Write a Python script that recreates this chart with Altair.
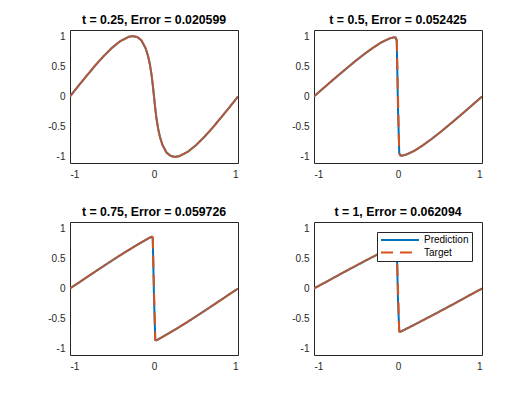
import altair as alt
import pandas as pd

BLUE = "#0072BD"
ORANGE = "#D95319"
AX = "#262626"
FONT = "Liberation Sans"

titles = [
    "t = 0.25, Error = 0.020599",
    "t = 0.5, Error = 0.052425",
    "t = 0.75, Error = 0.059726",
    "t = 1, Error = 0.062094",
]
series_names = ["Prediction", "Target"]

x_ticks = [-1, 0, 1]
y_ticks = [-1, -0.5, 0, 0.5, 1]
x_limits = [-1, 1]
y_limits = [-1.1, 1.1]

# ---- t = 0.25 ----
x_p1 = [-1, -0.9, -0.8, -0.7, -0.6, -0.5, -0.4, -0.3, -0.25, -0.2, -0.15, -0.1,
        -0.07, -0.05, -0.03, -0.02, -0.01, 0, 0.01, 0.02, 0.03, 0.05, 0.07, 0.1,
        0.15, 0.2, 0.25, 0.3, 0.4, 0.5, 0.6, 0.7, 0.8, 0.9, 1]
target_p1 = [0, 0.176, 0.347, 0.513, 0.668, 0.806, 0.918, 0.988, 1.0, 0.985, 0.93, 0.8,
             0.67, 0.54, 0.37, 0.26, 0.135, 0, -0.135, -0.26, -0.37, -0.54, -0.67, -0.8,
             -0.93, -0.985, -1.0, -0.988, -0.918, -0.806, -0.668, -0.513, -0.347, -0.176, 0]
prediction_p1 = [0.002, 0.175, 0.346, 0.512, 0.667, 0.805, 0.917, 0.987, 0.998, 0.983, 0.928, 0.797,
                 0.665, 0.535, 0.365, 0.255, 0.13, 0, -0.13, -0.255, -0.365, -0.535, -0.665, -0.797,
                 -0.928, -0.983, -0.998, -0.987, -0.917, -0.805, -0.667, -0.512, -0.346, -0.175, -0.002]
jump_p1 = []

# ---- t = 0.5 ----
x_p2 = [-1, -0.9, -0.8, -0.7, -0.6, -0.5, -0.4, -0.3, -0.2, -0.1, -0.05, -0.03, -0.015,
        0, 0.015, 0.03, 0.05, 0.1, 0.2, 0.3, 0.4, 0.5, 0.6, 0.7, 0.8, 0.9, 1]
target_p2 = [0, 0.123, 0.245, 0.363, 0.48, 0.595, 0.703, 0.804, 0.894, 0.962, 0.98, 0.978, 0.95,
             0, -0.95, -0.978, -0.98, -0.962, -0.894, -0.804, -0.703, -0.595, -0.48, -0.363, -0.245, -0.123, 0]
prediction_p2 = [0.002, 0.122, 0.244, 0.362, 0.479, 0.594, 0.702, 0.803, 0.893, 0.96, 0.978, 0.975, 0.92,
                 -0.2, -0.94, -0.976, -0.978, -0.96, -0.893, -0.803, -0.702, -0.594, -0.479, -0.362, -0.244, -0.122, -0.002]
jump_p2 = [-0.015, 0.015]

# ---- t = 0.75 ----
x_p3 = [-1, -0.9, -0.8, -0.7, -0.6, -0.5, -0.4, -0.3, -0.2, -0.1, -0.05, -0.03, -0.015,
        0, 0.015, 0.03, 0.05, 0.1, 0.2, 0.3, 0.4, 0.5, 0.6, 0.7, 0.8, 0.9, 1]
target_p3 = [0, 0.093, 0.187, 0.28, 0.372, 0.463, 0.553, 0.639, 0.723, 0.804, 0.843, 0.857, 0.86,
             0, -0.86, -0.857, -0.843, -0.804, -0.723, -0.639, -0.553, -0.463, -0.372, -0.28, -0.187, -0.093, 0]
prediction_p3 = [0.002, 0.092, 0.186, 0.279, 0.371, 0.462, 0.552, 0.638, 0.722, 0.802, 0.84, 0.853, 0.83,
                 -0.15, -0.85, -0.855, -0.841, -0.802, -0.722, -0.638, -0.552, -0.462, -0.371, -0.279, -0.186, -0.092, -0.002]
jump_p3 = [-0.015, 0.015]

# ---- t = 1 ----
x_p4 = [-1, -0.9, -0.8, -0.7, -0.6, -0.5, -0.4, -0.3, -0.2, -0.1, -0.05, -0.03, -0.015,
        0, 0.015, 0.03, 0.05, 0.1, 0.2, 0.3, 0.4, 0.5, 0.6, 0.7, 0.8, 0.9, 1]
target_p4 = [0, 0.076, 0.152, 0.228, 0.303, 0.377, 0.451, 0.524, 0.596, 0.667, 0.702, 0.715, 0.72,
             0, -0.72, -0.715, -0.702, -0.667, -0.596, -0.524, -0.451, -0.377, -0.303, -0.228, -0.152, -0.076, 0]
prediction_p4 = [0.002, 0.075, 0.151, 0.227, 0.302, 0.376, 0.45, 0.523, 0.595, 0.665, 0.7, 0.712, 0.69,
                 -0.2, -0.71, -0.713, -0.7, -0.665, -0.595, -0.523, -0.45, -0.376, -0.302, -0.227, -0.151, -0.075, -0.002]
jump_p4 = [-0.015, 0.015]

panels_data = [
    (x_p1, target_p1, prediction_p1, jump_p1),
    (x_p2, target_p2, prediction_p2, jump_p2),
    (x_p3, target_p3, prediction_p3, jump_p3),
    (x_p4, target_p4, prediction_p4, jump_p4),
]

PANEL_W = 168
PANEL_H = 133


def make_panel(xs, target, prediction, jump, title, with_legend):
    pred_df = pd.DataFrame({"x": xs, "u": prediction, "series": "Prediction"})
    if jump:
        lo, hi = jump
        piece = ["left" if v <= lo else ("right" if v >= hi else "shock") for v in xs]
    else:
        piece = ["left"] * len(xs)
    tgt_df = pd.DataFrame({"x": xs, "u": target, "series": "Target", "piece": piece})
    smooth_df = tgt_df[tgt_df["piece"] != "shock"]

    xenc = alt.X("x:Q",
                 scale=alt.Scale(domain=x_limits, nice=False, zero=False),
                 axis=alt.Axis(values=x_ticks, title=None, labelExpr="datum.value + ''",
                               labelPadding=6))
    yenc = alt.Y("u:Q",
                 scale=alt.Scale(domain=y_limits, nice=False, zero=False),
                 axis=alt.Axis(values=y_ticks, title=None, labelExpr="datum.value + ''",
                               labelPadding=5))

    if with_legend:
        leg = alt.Legend(title=None, orient="none", legendX=307, legendY=202,
                         symbolType="stroke", symbolSize=1444, symbolStrokeWidth=2,
                         clipHeight=10, rowPadding=2.5, labelOffset=4, padding=3,
                         labelFont=FONT, labelFontSize=10, labelColor="#000000",
                         strokeColor=AX, fillColor="white", cornerRadius=0)
        color = alt.Color("series:N", scale=alt.Scale(domain=series_names, range=[BLUE, ORANGE]),
                          legend=leg)
        dash = alt.StrokeDash("series:N",
                              scale=alt.Scale(domain=series_names, range=[[1, 0], [12, 7]]),
                              legend=leg)
        pred_color, pred_dash = color, dash
        shock_color, shock_dash = color, dash
    else:
        pred_color, pred_dash = alt.value(BLUE), alt.value([1, 0])
        shock_color, shock_dash = alt.value(ORANGE), alt.value([12, 7])

    pred_layer = alt.Chart(pred_df).mark_line(strokeWidth=2, clip=True).encode(
        x=xenc, y=yenc, color=pred_color, strokeDash=pred_dash)
    smooth_layer = alt.Chart(smooth_df).mark_line(strokeWidth=2, clip=True, opacity=0.82).encode(
        x=xenc, y=yenc, color=alt.value(ORANGE), detail="piece:N")
    layers = [pred_layer, smooth_layer]
    if jump:
        lo, hi = jump
        shock_df = tgt_df[(tgt_df["x"] >= lo) & (tgt_df["x"] <= hi)]
        shock_layer = alt.Chart(shock_df).mark_line(strokeWidth=2, clip=True).encode(
            x=xenc, y=yenc, color=shock_color, strokeDash=shock_dash)
        layers.append(shock_layer)

    return alt.layer(*layers).properties(
        width=PANEL_W, height=PANEL_H,
        title=alt.TitleParams(text=title, font=FONT, fontSize=12.3, fontWeight="bold",
                              color="#000000", anchor="middle", offset=4),
    )


panels = [
    make_panel(xs, tg, pr, jp, titles[i], i == 3)
    for i, (xs, tg, pr, jp) in enumerate(panels_data)
]

chart = alt.concat(*panels, columns=2, spacing={"row": 59, "column": 76}, bounds="flush").properties(
    padding={"left": 47, "top": 13, "right": 5, "bottom": 5},
    background="white",
).configure_view(
    stroke=AX, strokeWidth=1
).configure_axis(
    domain=False, ticks=False, tickSize=0, grid=False,
    labelFont=FONT, labelFontSize=10, labelColor=AX,
)

chart.save("out.html", embed_options={"renderer": "svg", "actions": False})
